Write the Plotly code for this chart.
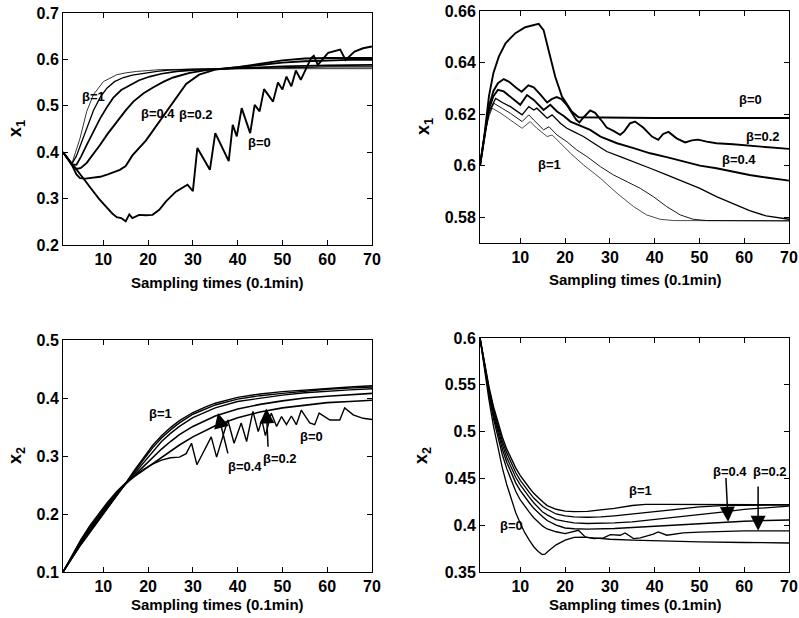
import plotly.graph_objects as go

# ---------------- Panel A (top-left): x1, case 1 ----------------
a_b0_x = [1, 2, 3, 4, 5, 6, 7, 8, 9, 10, 11, 12, 13, 14, 15, 15.8, 16.5, 18, 19.5, 21, 22.5, 24, 26.2, 28.8, 30,
          31, 33.8, 35, 38, 38.9, 39.8, 40.9, 42.8, 43.8, 44.9, 45.9, 47.9, 49, 50, 50.9, 52, 53, 54.1, 56.4, 57,
          57.9, 60.2, 62.9, 64.1, 66.1, 68, 70]
a_b0_y = [0.4, 0.388, 0.376, 0.364, 0.352, 0.338, 0.325, 0.312, 0.3, 0.289, 0.278, 0.268, 0.26, 0.258, 0.251, 0.266,
          0.258, 0.265, 0.264, 0.265, 0.276, 0.294, 0.315, 0.33, 0.316,
          0.409, 0.362, 0.441, 0.381, 0.459, 0.434, 0.495, 0.441, 0.502, 0.488, 0.536, 0.509, 0.55, 0.535, 0.563,
          0.542, 0.576, 0.556, 0.603, 0.608, 0.588, 0.614, 0.621, 0.599, 0.617, 0.624, 0.628]
a_b02_x = [1, 2, 3, 4, 4.8, 6, 7, 9.3, 11, 13.7, 15, 16.5, 19.5, 22.5, 25, 28.5, 31.4, 35, 40, 45, 50, 55, 60, 70]
a_b02_y = [0.4, 0.386, 0.372, 0.352, 0.344, 0.343, 0.344, 0.347, 0.352, 0.362, 0.37, 0.393, 0.425, 0.465, 0.5,
           0.547, 0.567, 0.578, 0.583, 0.59, 0.598, 0.602, 0.603, 0.603]
a_b04_x = [1, 2, 3, 4, 5, 6.3, 7.8, 9.3, 11, 13, 15, 16.7, 19, 21.2, 23.5, 25.6, 29.3, 33, 37, 40, 45, 50, 55, 60, 65, 70]
a_b04_y = [0.4, 0.387, 0.373, 0.364, 0.366, 0.377, 0.396, 0.416, 0.44, 0.466, 0.49, 0.509, 0.527, 0.54, 0.552, 0.561,
           0.571, 0.577, 0.58, 0.583, 0.588, 0.593, 0.596, 0.598, 0.599, 0.599]
a_b06_x = [1, 2, 3, 4, 5, 6.3, 7.8, 9.3, 10.8, 12.2, 14, 16, 18, 20.4, 23, 26.4, 30, 35, 40, 50, 60, 70]
a_b06_y = [0.4, 0.387, 0.374, 0.373, 0.39, 0.416, 0.445, 0.473, 0.497, 0.517, 0.534, 0.545, 0.555, 0.563, 0.569,
           0.574, 0.577, 0.579, 0.581, 0.585, 0.587, 0.588]
a_b08_x = [1, 2, 3, 4, 5.5, 6.5, 7.8, 9.3, 10.8, 12.5, 14.5, 16.5, 18.9, 22, 24.7, 30, 40, 50, 60, 70]
a_b08_y = [0.4, 0.387, 0.375, 0.392, 0.43, 0.458, 0.49, 0.518, 0.538, 0.552, 0.561, 0.566, 0.57, 0.574, 0.577,
           0.579, 0.58, 0.582, 0.584, 0.584]
a_b1_x = [1, 2, 3, 3.8, 4.8, 6.3, 7.8, 10, 13, 15, 17.4, 22.7, 30, 40, 50, 60, 70]
a_b1_y = [0.4, 0.387, 0.376, 0.4, 0.43, 0.488, 0.524, 0.552, 0.567, 0.571, 0.574, 0.578, 0.579, 0.58, 0.58, 0.58, 0.58]

# ---------------- Panel B (top-right): x1, case 2 ----------------
b_b0_x = [1, 2, 3, 4, 5.2, 6.7, 8.9, 11.1, 14.1, 15.2, 16.3, 17.8, 19.3, 21.5, 23, 30, 40, 50, 60, 70]
b_b0_y = [0.6, 0.612, 0.627, 0.636, 0.6423, 0.6475, 0.6514, 0.6537, 0.655, 0.6526, 0.6449, 0.6345, 0.6268, 0.621,
          0.6188, 0.6186, 0.6185, 0.6185, 0.6185, 0.6185]
b_b02_x = [1, 2, 3, 4, 5, 6.3, 7.5, 9, 10.3, 11.8, 13, 14.5, 16, 17, 18.1, 19.2, 20.4, 21.5, 22.5, 23.2, 24, 25.6,
           26.7, 28, 29.3, 30.8, 32.3, 33.2, 34.5, 35.6, 37.5, 39.4, 40.8, 41.9, 43.1, 44.9, 46.8, 48.3, 49.7, 51.6,
           53.8, 57.5, 61.2, 64.9, 70]
b_b02_y = [0.6, 0.612, 0.623, 0.629, 0.632, 0.6336, 0.6325, 0.6303, 0.6287, 0.6312, 0.6304, 0.6276, 0.6245, 0.6258,
           0.6266, 0.6258, 0.6235, 0.6205, 0.6178, 0.6168, 0.6185, 0.6214, 0.6205, 0.6178, 0.6148, 0.6135, 0.612,
           0.6133, 0.6164, 0.6171, 0.6147, 0.6113, 0.61, 0.6123, 0.6131, 0.6106, 0.609, 0.6098, 0.6101, 0.6093,
           0.6087, 0.6083, 0.6078, 0.6071, 0.6065]
b_b04_x = [1, 2, 3, 4, 5, 6.3, 7.8, 10, 11.5, 13, 15.2, 16.7, 18.2, 19.7, 21.2, 23.4, 25.6, 27.9, 31.6, 35.3, 39,
           42.7, 46.4, 50.1, 53.8, 57.5, 61.2, 64.9, 70]
b_b04_y = [0.6, 0.612, 0.622, 0.627, 0.6294, 0.6288, 0.6268, 0.6236, 0.6274, 0.6255, 0.6216, 0.6236, 0.621, 0.6193,
           0.6171, 0.6154, 0.6139, 0.6113, 0.6087, 0.6068, 0.6048, 0.6033, 0.6016, 0.6, 0.599, 0.5977, 0.5964,
           0.5954, 0.5942]
b_b06_x = [1, 2, 3, 4.5, 6, 7.8, 10.4, 11.9, 13, 13.7, 16, 17.1, 19, 20.4, 21.9, 24.1, 26.4, 29.3, 32.3, 35.3, 39,
           42.7, 46.4, 50.1, 53.8, 57.5, 61.2, 64.9, 67.9, 70]
b_b06_y = [0.6, 0.612, 0.621, 0.6261, 0.6245, 0.6229, 0.6197, 0.6229, 0.6216, 0.6223, 0.6184, 0.6197, 0.6164,
           0.6145, 0.6132, 0.6113, 0.6087, 0.6055, 0.6035, 0.6016, 0.599, 0.5964, 0.5938, 0.5912, 0.588, 0.5852,
           0.5826, 0.5805, 0.5796, 0.5792]
b_b08_x = [1, 2, 3, 4.1, 6, 7.8, 10.4, 11.9, 13, 15.2, 16.4, 18.2, 20.4, 22.6, 24.9, 27.9, 30.8, 33.8, 36.8, 39.7,
           42.7, 45.7, 48.6, 51.6, 57.5, 70]
b_b08_y = [0.6, 0.612, 0.62, 0.6242, 0.6222, 0.6203, 0.6171, 0.6197, 0.6177, 0.6139, 0.6151, 0.6119, 0.6093,
           0.6061, 0.6035, 0.5996, 0.5964, 0.5938, 0.5912, 0.588, 0.5841, 0.5809, 0.5792, 0.5787, 0.5786, 0.5786]
b_b1_x = [1, 2, 3, 3.7, 5.5, 7.8, 10.4, 12.2, 13.7, 16, 17.1, 19, 21.2, 24.1, 27.9, 31.6, 35.3, 38.2, 41.2, 44.2, 70]
b_b1_y = [0.6, 0.612, 0.619, 0.6223, 0.6205, 0.6177, 0.6145, 0.6171, 0.6145, 0.6113, 0.6119, 0.6087, 0.6048,
          0.6003, 0.5951, 0.5893, 0.5841, 0.5809, 0.5792, 0.5787, 0.5786]

# ---------------- Panel C (bottom-left): x2, case 1 ----------------
c_grid = [1, 3, 5, 7, 9, 11, 13, 15, 17, 19, 21, 23, 25, 27, 30, 33, 35, 40, 45, 50, 55, 60, 65, 70]
c_b1_y = [0.1, 0.124, 0.147, 0.168, 0.189, 0.21, 0.231, 0.253, 0.276, 0.298, 0.318, 0.335, 0.349, 0.361, 0.375,
          0.385, 0.391, 0.401, 0.407, 0.411, 0.414, 0.417, 0.419, 0.421]
c_b08_y = [0.1, 0.125, 0.148, 0.17, 0.191, 0.212, 0.232, 0.252, 0.273, 0.294, 0.314, 0.331, 0.345, 0.357, 0.372,
           0.382, 0.388, 0.398, 0.404, 0.408, 0.412, 0.415, 0.417, 0.419]
c_b06_y = [0.1, 0.126, 0.15, 0.172, 0.193, 0.214, 0.234, 0.252, 0.27, 0.289, 0.308, 0.325, 0.339, 0.351, 0.366,
           0.377, 0.383, 0.394, 0.4, 0.405, 0.409, 0.412, 0.414, 0.416]
c_b04_y = [0.1, 0.127, 0.152, 0.175, 0.196, 0.216, 0.235, 0.252, 0.267, 0.282, 0.297, 0.312, 0.325, 0.337, 0.351,
           0.362, 0.369, 0.381, 0.389, 0.395, 0.4, 0.403, 0.406, 0.408]
c_b02_y = [0.1, 0.128, 0.154, 0.177, 0.198, 0.218, 0.237, 0.253, 0.265, 0.276, 0.287, 0.298, 0.309, 0.319, 0.333,
           0.345, 0.352, 0.366, 0.376, 0.383, 0.388, 0.392, 0.394, 0.396]
c_b0_x = [1, 3, 5, 7, 9, 11, 13, 15, 17, 19, 21, 23, 25, 27, 28.5, 29.7, 30.9, 34.1, 35.3, 37.8, 39.2, 40.8, 42,
          43.4, 44.6, 45.4, 46.2, 47.5, 48.7, 49.8, 50.9, 52, 53.1, 54.2, 56.1, 57.2, 58.2, 60.6, 62.8, 63.9, 65.8,
          68, 70]
c_b0_y = [0.1, 0.129, 0.156, 0.18, 0.201, 0.221, 0.239, 0.254, 0.266, 0.277, 0.286, 0.293, 0.297, 0.298, 0.304,
          0.322, 0.285, 0.333, 0.298, 0.362, 0.322, 0.357, 0.325, 0.377, 0.342, 0.362, 0.335, 0.374, 0.351, 0.368,
          0.354, 0.369, 0.354, 0.379, 0.357, 0.354, 0.374, 0.362, 0.362, 0.383, 0.371, 0.365, 0.363]

# ---------------- Panel D (bottom-right): x2, case 2 ----------------
d_grid = [1, 2, 3, 4, 5, 6, 7, 8, 9, 10, 11, 12, 13, 14, 15, 16, 18, 20, 22, 25, 28, 31, 35, 38, 42, 46, 50, 55,
          60, 65, 70]
d_b1_y = [0.6, 0.572, 0.548, 0.527, 0.509, 0.494, 0.481, 0.47, 0.461, 0.453, 0.446, 0.44, 0.434, 0.429, 0.425,
          0.421, 0.417, 0.415, 0.4145, 0.4148, 0.416, 0.418, 0.421, 0.4222, 0.4223, 0.4222, 0.4221, 0.422, 0.422,
          0.4219, 0.4218]
d_b08_y = [0.6, 0.571, 0.546, 0.524, 0.506, 0.49, 0.477, 0.466, 0.456, 0.448, 0.441, 0.435, 0.429, 0.424, 0.42,
           0.417, 0.412, 0.41, 0.409, 0.4085, 0.4088, 0.41, 0.412, 0.4135, 0.416, 0.418, 0.4195, 0.421, 0.4215,
           0.4217, 0.4217]
d_b06_y = [0.6, 0.57, 0.544, 0.521, 0.502, 0.486, 0.472, 0.461, 0.451, 0.443, 0.436, 0.43, 0.424, 0.419, 0.414,
           0.411, 0.406, 0.404, 0.4025, 0.4018, 0.402, 0.4025, 0.4035, 0.405, 0.407, 0.409, 0.411, 0.414, 0.417,
           0.419, 0.4204]
d_b04_y = [0.6, 0.569, 0.542, 0.518, 0.498, 0.481, 0.467, 0.455, 0.445, 0.437, 0.43, 0.424, 0.418, 0.413, 0.409,
           0.405, 0.4, 0.397, 0.3962, 0.3958, 0.396, 0.3965, 0.3975, 0.3985, 0.3995, 0.4005, 0.4015, 0.403, 0.4042,
           0.405, 0.4055]
d_b02_x = [1, 2, 3, 4, 5, 6, 7, 8, 9, 10, 11, 12, 13, 14, 15, 16, 18, 20, 22, 23, 24.5, 26.4, 28.6, 30.1, 32.3,
           33.4, 35.3, 36.8, 39.7, 40.8, 42.7, 46.4, 50, 55, 60, 65, 70]
d_b02_y = [0.6, 0.568, 0.539, 0.514, 0.493, 0.475, 0.46, 0.447, 0.436, 0.427, 0.42, 0.414, 0.408, 0.403, 0.399,
           0.396, 0.393, 0.391, 0.393, 0.3946, 0.3875, 0.3857, 0.3864, 0.39, 0.3893, 0.3918, 0.3857, 0.3864, 0.3904,
           0.3929, 0.3893, 0.3918, 0.3925, 0.3935, 0.394, 0.394, 0.394]
d_b0_x = [1, 2, 3, 4, 5, 6, 7, 8, 9, 10, 11, 12, 13, 14, 14.9, 15.5, 16.4, 18, 20, 22, 24, 27, 30, 35, 40, 50, 60, 70]
d_b0_y = [0.6, 0.565, 0.534, 0.506, 0.482, 0.461, 0.443, 0.427, 0.413, 0.402, 0.392, 0.384, 0.377, 0.372, 0.3686,
          0.369, 0.373, 0.379, 0.384, 0.387, 0.3872, 0.3862, 0.385, 0.384, 0.3832, 0.3822, 0.3815, 0.381]

# ---------------- axes / ticks ----------------
x_ticks = [10, 20, 30, 40, 50, 60, 70]
a_yticks = [0.2, 0.3, 0.4, 0.5, 0.6, 0.7]
b_yticks = [0.58, 0.6, 0.62, 0.64, 0.66]
c_yticks = [0.1, 0.2, 0.3, 0.4, 0.5]
d_yticks = [0.35, 0.4, 0.45, 0.5, 0.55, 0.6]
x_title = "Sampling times (0.1min)"

W, H = 799, 618
FONT = "Liberation Sans, Arial, sans-serif"

fig = go.Figure()

def add(xs, ys, ax, w):
    fig.add_trace(go.Scatter(x=xs, y=ys, mode="lines", line=dict(color="black", width=w),
                             xaxis="x" + ax, yaxis="y" + ax, showlegend=False, hoverinfo="skip"))

# panel A
add(a_b1_x, a_b1_y, "", 0.8)
add(a_b08_x, a_b08_y, "", 1.3)
add(a_b06_x, a_b06_y, "", 1.7)
add(a_b04_x, a_b04_y, "", 1.9)
add(a_b02_x, a_b02_y, "", 1.9)
add(a_b0_x, a_b0_y, "", 1.9)
# panel B
add(b_b1_x, b_b1_y, "2", 0.7)
add(b_b08_x, b_b08_y, "2", 0.9)
add(b_b06_x, b_b06_y, "2", 1.3)
add(b_b04_x, b_b04_y, "2", 1.9)
add(b_b02_x, b_b02_y, "2", 1.9)
add(b_b0_x, b_b0_y, "2", 1.9)
# panel C
add(c_grid, c_b1_y, "3", 1.4)
add(c_grid, c_b08_y, "3", 1.4)
add(c_grid, c_b06_y, "3", 1.4)
add(c_grid, c_b04_y, "3", 1.6)
add(c_grid, c_b02_y, "3", 1.6)
add(c_b0_x, c_b0_y, "3", 1.4)
# panel D
add(d_grid, d_b1_y, "4", 1.4)
add(d_grid, d_b08_y, "4", 1.3)
add(d_grid, d_b06_y, "4", 1.3)
add(d_grid, d_b04_y, "4", 1.4)
add(d_b02_x, d_b02_y, "4", 1.3)
add(d_b0_x, d_b0_y, "4", 1.3)

tickfont = dict(family=FONT, size=16, color="black", weight="bold")
common = dict(showline=True, linecolor="black", linewidth=1, mirror="ticks", ticks="inside", ticklen=5,
              tickcolor="black", tickwidth=1, showgrid=False, zeroline=False, tickfont=tickfont,
              automargin=False)

def fmt(v):
    return ("%.2f" % v).rstrip("0").rstrip(".")

panels = [
    ("", (63, 372), (13, 245), [0.2, 0.7], a_yticks),
    ("2", (480, 789), (11, 243), [0.57, 0.66], b_yticks),
    ("3", (63, 372), (340, 572), [0.1, 0.5], c_yticks),
    ("4", (480, 789), (338, 572), [0.35, 0.6], d_yticks),
]
layout = {}
for ax, (x0, x1), (y0, y1), yr, yt in panels:
    layout["xaxis" + ax] = dict(common, domain=[x0 / W, x1 / W], range=[1, 70], tickvals=x_ticks,
                                ticktext=[str(t) for t in x_ticks], anchor="y" + ax)
    layout["yaxis" + ax] = dict(common, domain=[1 - y1 / H, 1 - y0 / H], range=yr, tickvals=yt,
                                ticktext=[fmt(t) for t in yt], anchor="x" + ax)

fig.update_layout(**layout)

ann = []
lab_font = dict(family=FONT, size=13, color="black", weight="bold")
title_font = dict(family=FONT, size=15, color="black", weight="bold")

def label(ax, x, y, text):
    ann.append(dict(x=x, y=y, xref="x" + ax, yref="y" + ax, text=text, showarrow=False, font=lab_font))

def arrow(ax, tx, ty, sx, sy):
    ann.append(dict(x=tx, y=ty, ax=sx, ay=sy, xref="x" + ax, yref="y" + ax, axref="x" + ax, ayref="y" + ax,
                    text="", showarrow=True, arrowhead=2, arrowsize=2, arrowwidth=1.5, arrowcolor="black",
                    standoff=0))

label("", 7.9, 0.52, "β=1")
label("", 22.2, 0.484, "β=0.4")
label("", 30.6, 0.481, "β=0.2")
label("", 44.9, 0.421, "β=0")

label("2", 61.4, 0.6255, "β=0")
label("2", 64.2, 0.6113, "β=0.2")
label("2", 58.8, 0.6022, "β=0.4")
label("2", 16.5, 0.6003, "β=1")

label("3", 22.7, 0.3737, "β=1")
label("3", 41.6, 0.282, "β=0.4")
label("3", 49.5, 0.2963, "β=0.2")
label("3", 56.6, 0.3336, "β=0")
arrow("3", 35.6, 0.374, 37.9, 0.302)
arrow("3", 46.4, 0.382, 46.8, 0.3135)

label("4", 36.8, 0.4375, "β=1")
label("4", 56.8, 0.457, "β=0.4")
label("4", 65.8, 0.457, "β=0.2")
label("4", 8.0, 0.4, "β=0")
arrow("4", 56.4, 0.4036, 55.9, 0.452)
arrow("4", 63.1, 0.394, 63.1, 0.443)

for cx, cy in [(217, 282), (635, 279), (217, 604), (635, 604)]:
    ann.append(dict(x=cx / W, y=1 - cy / H, xref="paper", yref="paper", text=x_title, showarrow=False,
                    font=title_font, xanchor="center", yanchor="middle"))
for cx, cy, sub in [(16, 129, "1"), (424, 127, "1"), (16, 456, "2"), (422, 455, "2")]:
    ann.append(dict(x=cx / W, y=1 - cy / H, xref="paper", yref="paper", text="x<sub>" + sub + "</sub>",
                    showarrow=False, textangle=-90, font=dict(family=FONT, size=18, color="black", weight="bold"),
                    xanchor="center", yanchor="middle"))

fig.update_layout(annotations=ann, width=W, height=H,
                  margin=dict(l=0, r=0, t=0, b=0, autoexpand=False),
                  paper_bgcolor="white", plot_bgcolor="white")

fig.write_html("out.html", config={"displayModeBar": False},
               post_script="document.body.style.margin='0px';document.body.style.overflow='hidden';")
